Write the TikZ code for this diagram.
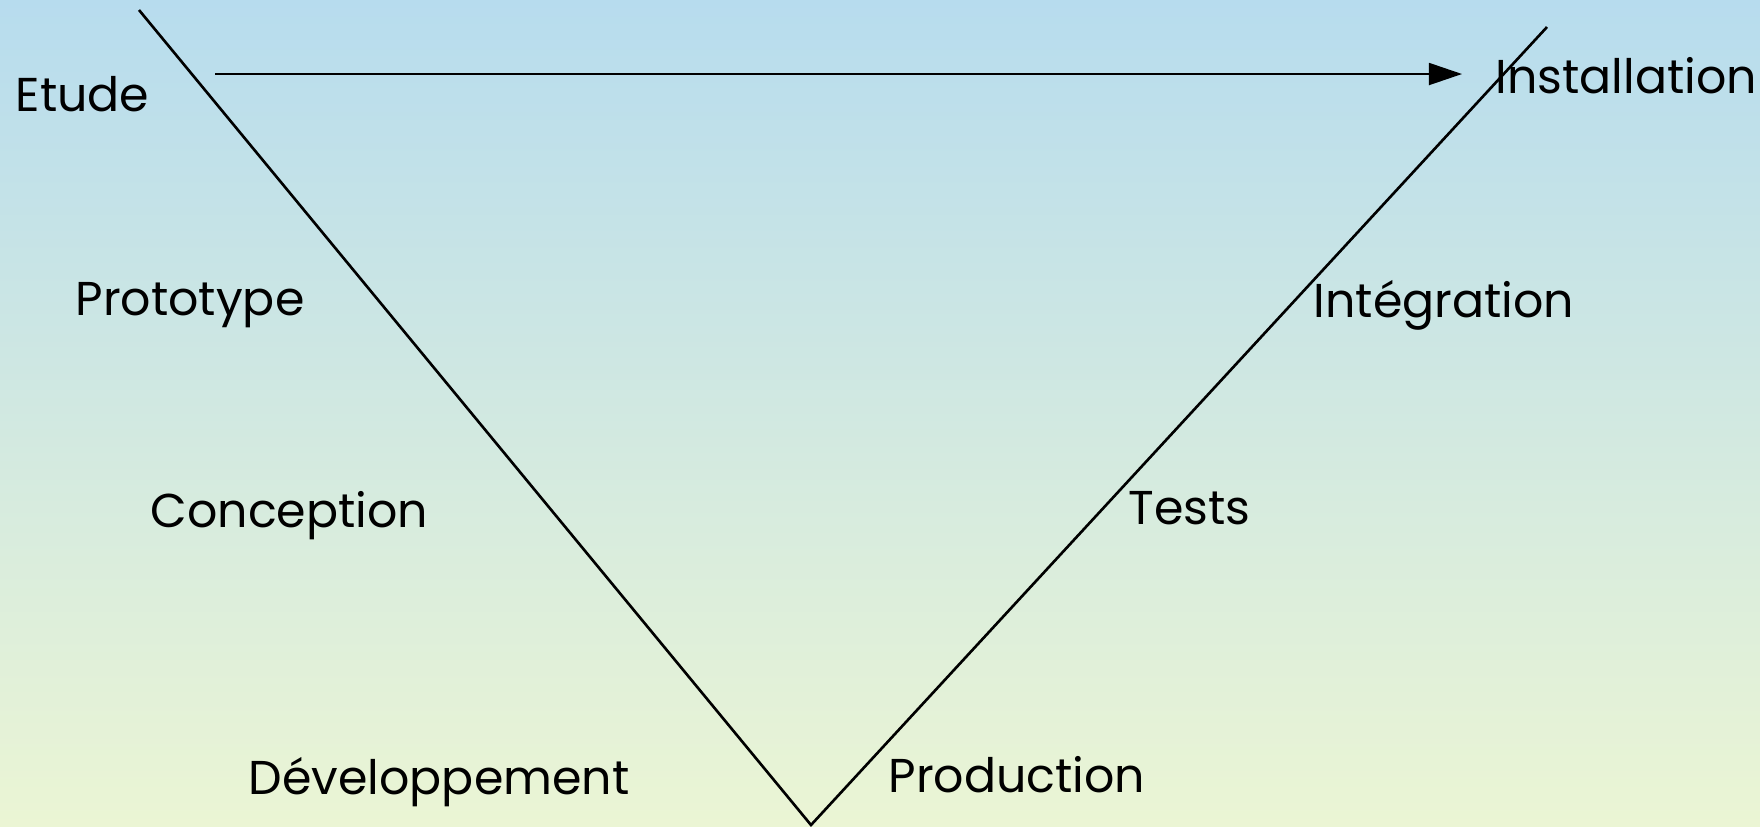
\documentclass[tikz,border=0pt]{standalone}
\usepackage{fontspec}
\setmainfont{Poppins}
\usetikzlibrary{arrows.meta}
\definecolor{skytop}{RGB}{183,220,238}
\definecolor{skybottom}{RGB}{235,245,212}

\begin{document}
\begin{tikzpicture}[x=0.01cm,y=-0.01cm,
  step label/.style={anchor=base west,inner sep=0pt,font=\fontsize{13.5}{16}\selectfont},
  vline/.style={draw=black,line width=0.75pt},
  flow/.style={draw=black,line width=0.5pt,-{Triangle[length=0.33cm,width=0.22cm]}}]
  \shade[top color=skytop,bottom color=skybottom] (0,0) rectangle (1760,826);
  \useasboundingbox (0,0) rectangle (1760,826);
  % the V
  \coordinate (vleft) at (139,10);
  \coordinate (vbottom) at (811,825);
  \coordinate (vright) at (1547,27);
  \draw[vline] (vleft) -- (vbottom) -- (vright);
  % phases
  \node[step label] (etude) at (15,111) {Etude};
  \node[step label] (proto) at (75,315) {Prototype};
  \node[step label] (concep) at (150,527) {Conception};
  \node[step label] (dev) at (248,794) {Développement};
  \node[step label] (prod) at (888,792) {Production};
  \node[step label] (tests) at (1128,524) {Tests};
  \node[step label] (integ) at (1313,317) {Intégration};
  \node[step label] (install) at (1495,93) {Installation};
  % arrow across the top
  \coordinate (from) at (215,74);
  \coordinate (to) at (1462,74);
  \draw[flow] (from) -- (to);
\end{tikzpicture}
\end{document}
